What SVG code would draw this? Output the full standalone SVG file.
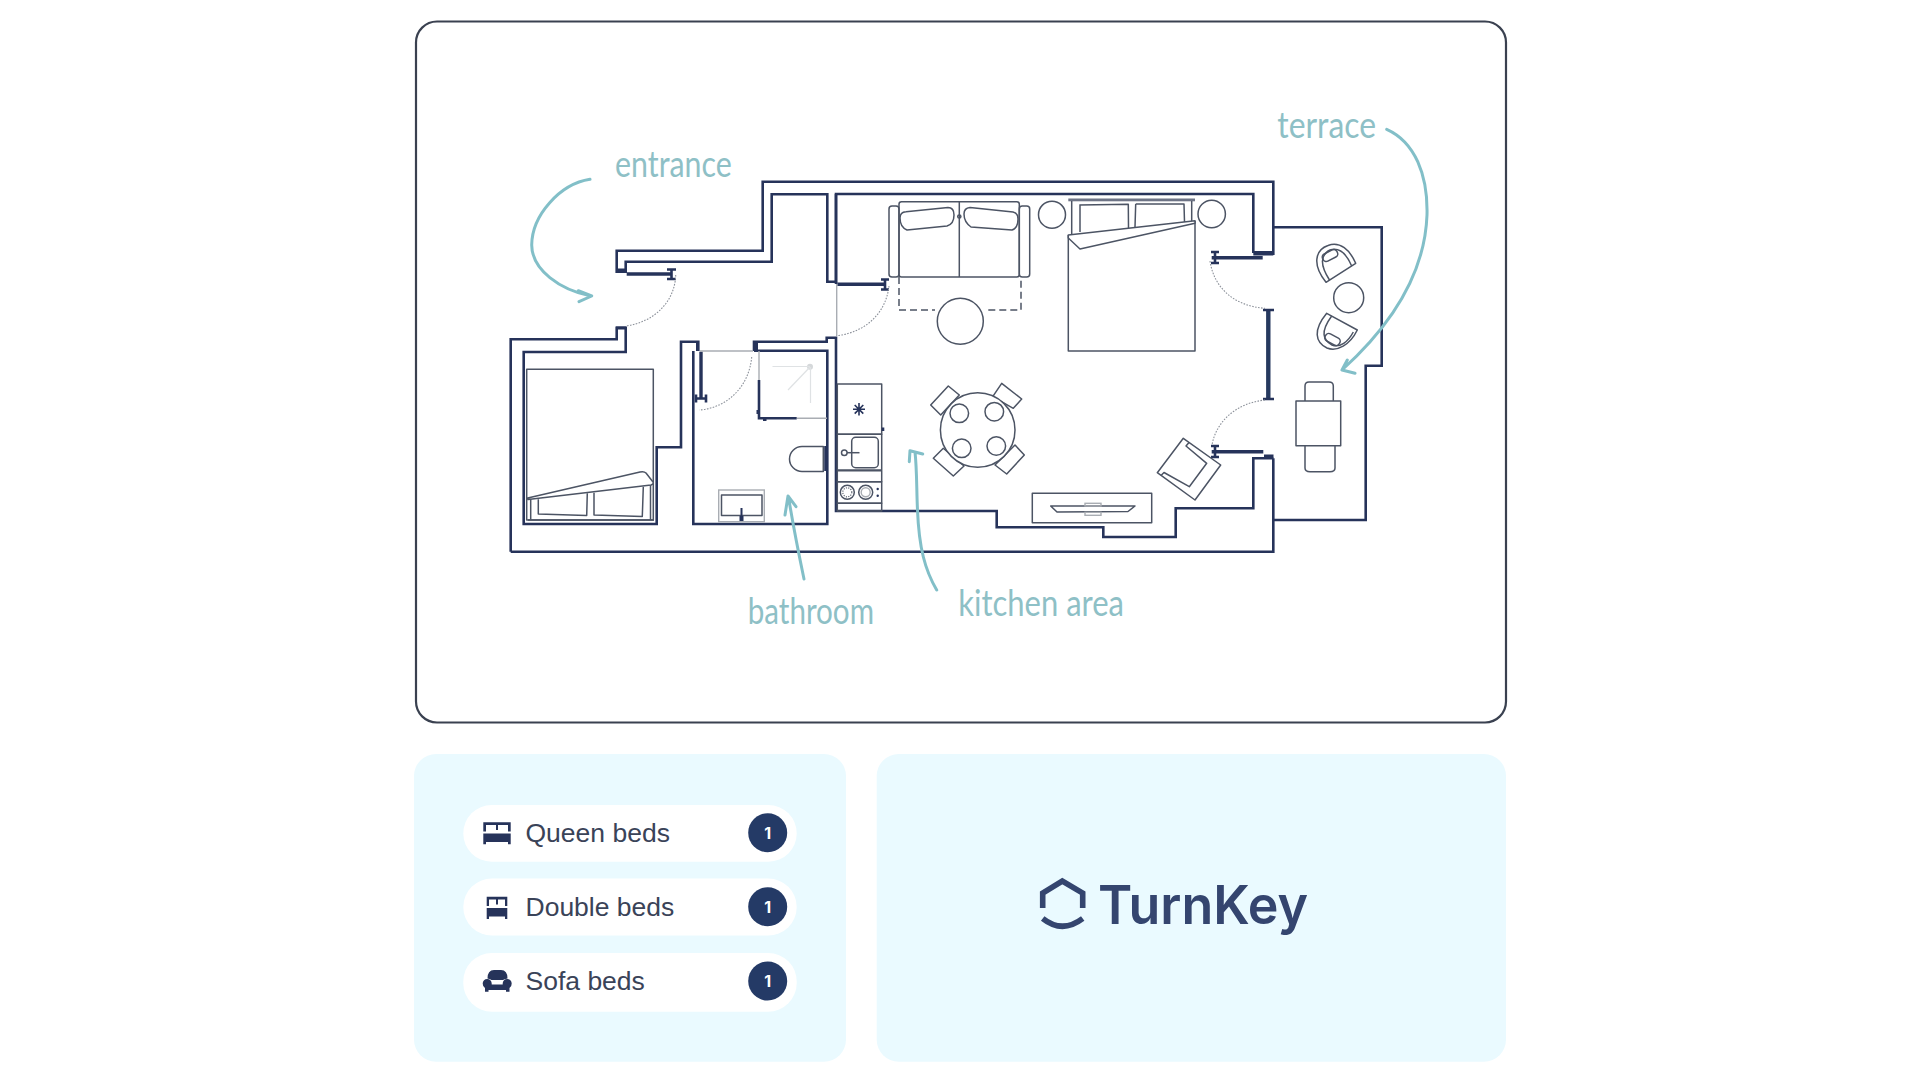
<svg xmlns="http://www.w3.org/2000/svg" width="1920" height="1080" viewBox="0 0 1920 1080">
<style>
.w{fill:none;stroke:#26335a;stroke-width:2.6;stroke-linejoin:miter}
.th{fill:none;stroke:#26335a;stroke-width:3.4}
.bar{fill:none;stroke:#26395f;stroke-width:4.4}
.t{fill:#26335a;stroke:none}
.f{fill:none;stroke:#4c5464;stroke-width:1.5;stroke-linejoin:round}
.fw{fill:#fff;stroke:#4c5464;stroke-width:1.5;stroke-linejoin:round}
.g{fill:none;stroke:#a9adb3;stroke-width:1.4}
.l{fill:none;stroke:#dfe2e4;stroke-width:1.2}
.arc{fill:none;stroke:#8d929b;stroke-width:1.1;stroke-dasharray:1.6 1.4}
.ar{fill:none;stroke:#82bfc8;stroke-width:3;stroke-linecap:round;stroke-linejoin:round}
.lab{font-family:"Liberation Sans Narrow","Lato","Liberation Sans",sans-serif;font-size:36px;fill:#8ec0c6}
.pill{fill:#fff}
.txt{font-family:"Liberation Sans",Arial,sans-serif;font-size:26.5px;fill:#3a4358}
.badge{fill:#243a66}
.n{font-family:"Inter","Liberation Sans",sans-serif;font-size:16px;font-weight:700;fill:#fff;text-anchor:middle}
.panel{fill:#eafaff}
.logo{fill:none;stroke:#34456f;stroke-width:5.6}
</style>
<rect width="1920" height="1080" fill="#fff"/>
<rect id="frame" x="416" y="21.5" width="1090" height="701" rx="21" fill="#fff" stroke="#3a4150" stroke-width="2.2"/>

<g id="walls">
<path class="w" d="M510.7,551.7V339.3H616.7V327.7H625.7V352H523.7V524H656.7V447.3H681V341.7H698.3V351M693.3,351V524H827.3V350.7H754"/>
<path class="w" d="M754,351V341.7H826.7V337.7H836V511H996.7V527.3H1103.3V537H1175.7V508.3H1253.3V458.3H1273.3"/>
<path class="w" d="M1273.3,458.3V551.7H510.7"/>
<path class="w" d="M1273.3,255V181.7H762.7V250.7H616.7V271.7H625.7V261.7H771.7V194.3H827.3V281.7H836V194H1253.3V253"/>
<path class="w" d="M836,194V284"/>
<path class="w" d="M1274,227.3H1381.7V365.7H1365.7V520H1274"/>
<rect class="t" x="616" y="268.5" width="10" height="3.5"/>
<rect class="t" x="1253.3" y="251" width="20" height="4.5"/>
<rect class="t" x="1264" y="454.5" width="9.5" height="4"/>
<rect class="t" x="616" y="326.5" width="10" height="3"/>
<rect class="t" x="755" y="342" width="3" height="9"/>
<rect class="t" x="696" y="342" width="3" height="9"/>
</g>

<g id="doors">
<g id="door-entrance">
<path class="th" d="M626.7,274H671"/>
<path class="w" d="M671.5,269.5V279M667,269.5H676M667,279H676"/>
<path class="arc" d="M675.7,275C675,301 655,322 625.7,326"/>
</g>
<g id="door-living">
<path class="th" d="M837.3,284.3H885"/>
<path class="w" d="M885,279.5V289.5M881,279.5H889M881,289.5H889"/>
<path class="g" d="M836.7,284V336"/>
<path class="arc" d="M889,286C886,313 866,332 837.3,335.7"/>
</g>
<g id="door-bath">
<path class="th" d="M701,351.7V398.3"/>
<path class="w" d="M696,398.5H706M696,394.5V402.5M706,394.5V402.5"/>
<path class="g" d="M700,351H753"/>
<path class="arc" d="M751.7,357C749,387 727,408 699.3,410"/>
</g>
<g id="door-terrace">
<path class="th" d="M1211.7,257.7H1262.7"/>
<path class="w" d="M1215,252V263M1211,252H1219M1211,263H1219"/>
<path class="arc" d="M1210,261C1214,288 1234,306 1265,308.3"/>
<path class="bar" d="M1268.3,310V399"/>
<path class="w" d="M1263,310H1274M1263,399H1274"/>
<path class="arc" d="M1265,400C1236,403 1215,422 1211.7,447"/>
<path class="th" d="M1211.7,451.7H1263.3"/>
<path class="w" d="M1215,446V457M1211,446H1219M1211,457H1219"/>
</g>
</g>

<g id="bed-left">
<rect class="f" x="526.7" y="369.3" width="126.6" height="150.7"/>
<path class="f" d="M530.7,499V519.5M650.5,485V520M528,520H654"/>
<path class="fw" d="M526.7,498.3L640,472Q644,471 646,473L653,482Q654,484 651,485L528,499.5Z"/>
<path class="f" d="M538.3,499.3V514L586.7,515.5L587.3,493.3M594,492.7V515L642.3,516.5L643.3,486.7"/>
</g>

<g id="bathroom">
<path class="g" d="M759,351V380M797,418.3H827"/>
<path class="w" d="M759,380V418.3H796.7"/>
<rect class="t" x="756.5" y="410" width="3" height="4"/>
<rect class="t" x="763" y="418" width="3.5" height="3"/>
<circle cx="810" cy="366.7" r="3" fill="#d5d8da"/>
<path class="l" d="M772.5,366.5H810M810,367L788,390M810.5,367V403"/>
<path class="f" d="M823.3,446.5H802A12.5,12.5 0 0 0 802,471.5H823.3Z"/>
<path class="w" d="M825.5,446V471"/>
<rect class="g" x="718.7" y="490" width="45.6" height="31.7"/>
<rect class="f" x="721.5" y="495" width="40.5" height="20.5"/>
<path class="t" d="M740.5,508H742.5V516H743.5V521H739.5V516H740.5Z"/>
</g>

<g id="kitchen">
<rect class="f" x="837.3" y="384" width="44.4" height="50.3"/>
<g stroke="#26335a" stroke-width="1.6"><path d="M859,403V415.5M853,409.3H865M854.7,405L863.3,413.6M863.3,405L854.7,413.6"/></g>
<rect class="f" x="837.3" y="434.3" width="44.4" height="35.7"/>
<rect class="f" x="851.7" y="437.3" width="26.6" height="30.4" rx="4"/>
<circle class="f" cx="844.3" cy="452.7" r="2.8"/>
<path class="f" d="M847,452.7H859.5"/>
<rect class="f" x="837.3" y="470.7" width="44.4" height="11"/>
<rect class="f" x="837.3" y="481.7" width="44.4" height="21.6"/>
<circle class="f" cx="847.3" cy="492.3" r="7"/><circle class="l" cx="847.3" cy="492.3" r="4.5" style="stroke:#656c78;stroke-dasharray:1.2 1.2"/>
<circle class="f" cx="865.7" cy="492.3" r="7"/><circle class="g" cx="865.7" cy="492.3" r="4.5"/>
<circle class="t" cx="877.7" cy="489" r="1.2"/><circle class="t" cx="877.7" cy="495.7" r="1.2"/>
<rect class="f" x="837.3" y="503.3" width="44.4" height="7.7"/>
<rect class="t" x="881.7" y="427.5" width="2.6" height="3.5"/>
</g>

<g id="sofa">
<rect class="f" x="889" y="206" width="10" height="71" rx="3"/>
<rect class="f" x="1019.3" y="206" width="10.4" height="71" rx="3"/>
<rect class="f" x="899" y="201.7" width="120.3" height="75.3" rx="2.5"/>
<path class="f" d="M959.3,201.7V277"/>
<path class="f" d="M906,211.7L948,207.5Q954,207.5 954,215Q954,224 947,226L907,230Q900,227 900,218Q900,212 906,211.7Z"/>
<path class="f" d="M970,207.5L1013,212Q1018,213 1018,219Q1018,228 1012,230L971,227Q964,222 964,214Q964,208 970,207.5Z"/>
<circle class="f" cx="959.3" cy="216.5" r="1.6"/>
<path class="f" style="stroke-dasharray:7 4" d="M899,277V310H935M988.3,310H1021V277"/>
<circle class="f" cx="960.3" cy="321.3" r="23"/>
</g>

<g id="bed-main">
<circle class="f" cx="1052" cy="214.7" r="13.5"/>
<circle class="f" cx="1211.7" cy="214" r="13.7"/>
<rect x="1068.3" y="198.5" width="126.7" height="2.8" fill="#6e7486"/>
<path class="f" d="M1071.7,201V234M1191.7,201V222"/>
<path class="f" d="M1079.3,205L1128.3,204.3L1128.5,228M1080,205V232M1135.7,204H1184L1184.5,222M1135.7,204L1135,227"/>
<path class="f" d="M1068.3,235V351H1195V221"/>
<path class="fw" d="M1068.3,235L1195,220.7V223.3L1080,249L1068.3,238Z"/>
</g>

<g id="dining">
<path class="fw" d="M930.7,405L948.3,386L959.3,395L940.7,415Z"/>
<path class="fw" d="M992.7,396.7L1001.7,383.3L1021.7,399L1013.3,408.3Z"/>
<path class="fw" d="M933.3,458.3L943.3,448.3L964,466L953.3,476Z"/>
<path class="fw" d="M995,465L1015,445L1024.3,455L1006.7,474Z"/>
<circle class="fw" cx="977.7" cy="430" r="37.3"/>
<circle class="f" cx="959.3" cy="413.3" r="9.3"/>
<circle class="f" cx="994.3" cy="411.7" r="9.3"/>
<circle class="f" cx="961.7" cy="448.3" r="9.3"/>
<circle class="f" cx="996.3" cy="446" r="9.3"/>
</g>

<g id="armchair">
<path class="fw" d="M1183.3,438.3L1220.7,465L1195,500L1157.3,472.7Z"/>
<path class="f" d="M1189,442.5L1186,446L1206.7,463.3L1189.3,486.7L1164,472.5L1161,475.5"/>
</g>

<g id="tv-unit">
<rect class="f" x="1032.3" y="493.3" width="119.4" height="29.4"/>
<path class="f" d="M1050.7,506H1135L1128,511.5L1057,512Z"/>
<rect class="g" x="1085" y="503.3" width="16" height="2.7"/>
<rect class="g" x="1085" y="512.3" width="16" height="3"/>
</g>

<g id="terrace-furniture">
<path class="f" d="M1326,282.3C1312,265 1315,250 1328,245.5C1340,241 1350,250 1355.7,263.3Z"/>
<path class="f" d="M1329.5,280C1320,265 1320,255 1330,250C1340,247 1347,255 1351.7,266"/>
<rect class="f" x="1322" y="251.5" width="16" height="8" rx="3.5" transform="rotate(-27 1330 255.5)"/>
<circle class="f" cx="1348.7" cy="297.7" r="15"/>
<path class="f" d="M1326.7,313.3L1357.3,330C1350,345 1337,352 1327,348C1315,342 1313,330 1326.7,313.3Z"/>
<path class="f" d="M1331.7,316C1320,332 1323,340 1332,345C1340,348 1348,342 1353.3,332"/>
<rect class="f" x="1324.5" y="335.5" width="16" height="8" rx="3.5" transform="rotate(28 1332.5 339.5)"/>
<path class="f" d="M1305,401V386Q1305,382 1309,382H1329Q1333.3,382 1333.3,386V401"/>
<rect class="f" x="1296" y="401" width="44.7" height="44.7"/>
<path class="f" d="M1305,445.7V468Q1305,471.7 1310,471.7H1330Q1335,471.7 1335,468V445.7"/>
</g>

<g id="arrows">
<path class="ar" d="M590,179.3C560,184 532,215 531.7,245C532,270 560,290 591,296M578.3,290.7L591.7,296L579,301.7"/>
<path class="ar" d="M804,579C799,555 793,525 788.5,497M785,515L788,496L796,506.7"/>
<path class="ar" d="M936.7,590C925,570 919,548 917.5,510C916.5,490 917,470 915,452M909.3,461.7L910,450.7L922.7,454"/>
<path class="ar" d="M1386.7,129.3C1415,142 1428,175 1427,215C1425,270 1395,322 1342,370M1347.3,360L1342,370L1355,373.3"/>
</g>

<g id="labels">
<text class="lab" x="615" y="176.7" textLength="116.7" lengthAdjust="spacingAndGlyphs">entrance</text>
<text class="lab" x="1277.3" y="138.3" textLength="98.7" lengthAdjust="spacingAndGlyphs">terrace</text>
<text class="lab" x="747.7" y="624" textLength="126.3" lengthAdjust="spacingAndGlyphs">bathroom</text>
<text class="lab" x="958.3" y="615.7" textLength="165.7" lengthAdjust="spacingAndGlyphs">kitchen area</text>
</g>

<g id="beds-panel">
<rect class="panel" x="414" y="754" width="432" height="307.7" rx="22"/>
<g id="row-queen">
<rect class="pill" x="463.3" y="805" width="333.4" height="56.7" rx="28.3"/>
<path class="t" d="M483.3,822.3H510.7V831.5H508V825H498V830H496V825H486V831.5H483.3ZM483.3,833.5H510.7V844.3H508V842H486V844.3H483.3Z"/>
<text class="txt" x="525.5" y="842">Queen beds</text>
<circle class="badge" cx="767.7" cy="832.7" r="19.5"/>
<text class="n" x="767.7" y="838.6">1</text>
</g>
<g id="row-double">
<rect class="pill" x="463.3" y="878.5" width="333.4" height="57" rx="28.5"/>
<path class="t" d="M486.7,896.7H507.3V906H505V899.5H498V904.5H496V899.5H489V906H486.7ZM486.7,908H507.3V919H505V916.5H489V919H486.7Z"/>
<text class="txt" x="525.5" y="916.3">Double beds</text>
<circle class="badge" cx="767.7" cy="906.7" r="19.5"/>
<text class="n" x="767.7" y="912.6">1</text>
</g>
<g id="row-sofa">
<rect class="pill" x="463.3" y="953" width="333.4" height="58.7" rx="28.5"/>
<path class="t" d="M487.5,978.5Q487.5,970 494,970H501Q507.5,970 507.5,978.5Q504,979 503,980H491.5Q490.5,979 487.5,978.5ZM482.7,983.5A4.5,4.5 0 0 1 491.7,983.5V984.5H502.7V983.5A4.5,4.5 0 0 1 511.7,983.5Q511.7,987 509.5,988V991.7H506V990H488.5V991.7H485V988Q482.7,987 482.7,983.5Z"/>
<text class="txt" x="525.5" y="990.3">Sofa beds</text>
<circle class="badge" cx="767.7" cy="981" r="19.5"/>
<text class="n" x="767.7" y="986.9">1</text>
</g>
</g>

<g id="logo-panel">
<rect class="panel" x="876.7" y="754" width="629.3" height="307.7" rx="22"/>
<path class="logo" d="M1042.7,908V893L1062.3,881L1082.7,893V908"/>
<path class="logo" d="M1042.7,918.5Q1062.3,934 1082.7,918.5"/>
<text x="1098" y="924" font-family="Inter,'Liberation Sans',sans-serif" font-size="53" font-weight="600" fill="#34456f" textLength="210" lengthAdjust="spacingAndGlyphs">TurnKey</text>
</g>
</svg>
